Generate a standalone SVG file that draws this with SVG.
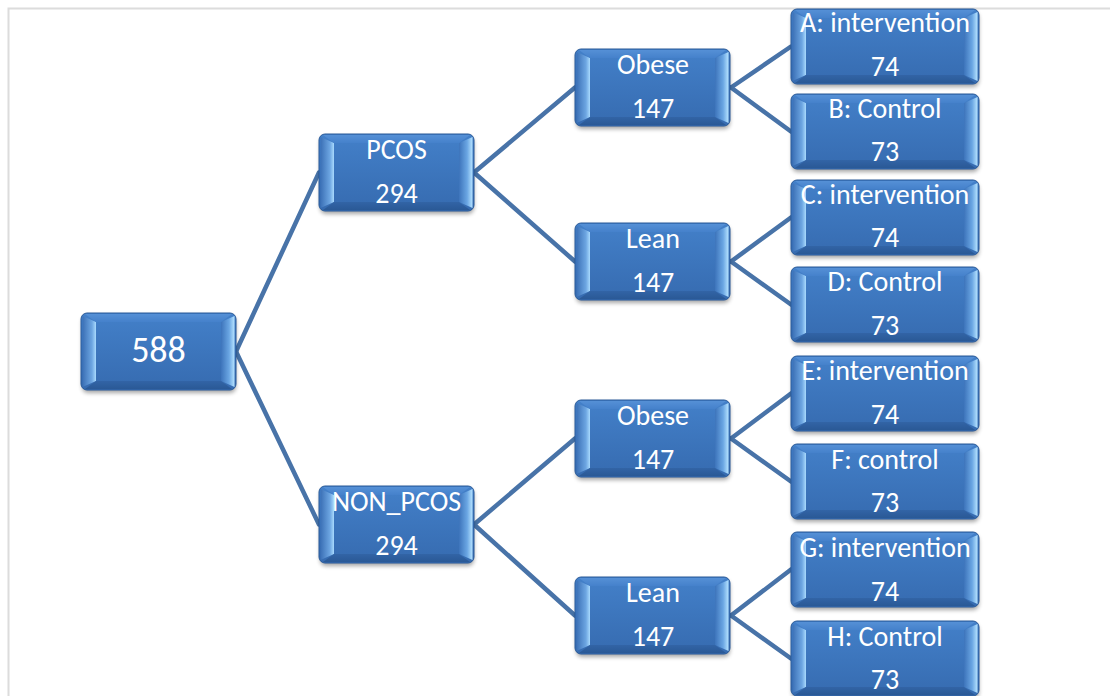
<svg xmlns="http://www.w3.org/2000/svg" xmlns:xlink="http://www.w3.org/1999/xlink" width="1110" height="696" viewBox="0 0 1110 696">
<style>
.t{fill:#ffffff;font-family:Carlito,Lato,"Liberation Sans",sans-serif;font-size:28px;text-anchor:middle}
.big{font-size:36px}
.con{stroke:#4873a8;stroke-width:4.5;fill:none;stroke-linecap:round}
.frame{stroke:#dcdcdc;stroke-width:2;fill:none}
</style>
<defs>
<linearGradient id="face" x1="0" y1="0" x2="0" y2="1"><stop offset="0" stop-color="#4380c9"/><stop offset="1" stop-color="#366bb0"/></linearGradient>
<linearGradient id="bevL" x1="0" y1="0" x2="1" y2="0"><stop offset="0" stop-color="#3b70b6"/><stop offset="0.7" stop-color="#6da6e2"/><stop offset="1" stop-color="#a9dafd"/></linearGradient>
<linearGradient id="bevR" x1="0" y1="0" x2="1" y2="0"><stop offset="0" stop-color="#3d74bb"/><stop offset="0.6" stop-color="#6aa6e3"/><stop offset="1" stop-color="#b6e3ff"/></linearGradient>
<linearGradient id="bevT" x1="0" y1="0" x2="0" y2="1"><stop offset="0" stop-color="#5590d6"/><stop offset="1" stop-color="#4581cb"/></linearGradient>
<linearGradient id="bevB" x1="0" y1="0" x2="0" y2="1"><stop offset="0" stop-color="#3264a6"/><stop offset="1" stop-color="#2a5996"/></linearGradient>
<filter id="sh" x="-10%" y="-10%" width="120%" height="130%"><feGaussianBlur stdDeviation="2"/></filter>
<g id="boxM">
<rect x="1" y="3" width="154" height="77" rx="6" fill="#000" opacity="0.35" filter="url(#sh)"/>
<rect x="0" y="0" width="155" height="77" rx="6" fill="url(#face)" stroke="#2b5b99" stroke-width="1"/>
<polygon points="1.5,3 15,9 15,68 1.5,74" fill="url(#bevL)"/>
<polygon points="140,9 153.5,3 153.5,74 140,68" fill="url(#bevR)"/>
<polygon points="4,1 151,1 140,9 15,9" fill="url(#bevT)"/>
<polygon points="15,68 140,68 151,76 4,76" fill="url(#bevB)"/>
</g>
<g id="boxL">
<rect x="1" y="3" width="187" height="75" rx="6" fill="#000" opacity="0.35" filter="url(#sh)"/>
<rect x="0" y="0" width="188" height="75" rx="6" fill="url(#face)" stroke="#2b5b99" stroke-width="1"/>
<polygon points="1.5,3 15,9 15,66 1.5,72" fill="url(#bevL)"/>
<polygon points="173,9 186.5,3 186.5,72 173,66" fill="url(#bevR)"/>
<polygon points="4,1 184,1 173,9 15,9" fill="url(#bevT)"/>
<polygon points="15,66 173,66 184,74 4,74" fill="url(#bevB)"/>
</g>
</defs>
<rect width="1110" height="696" fill="#ffffff"/>
<path class="frame" d="M8.5,696 V8.5 H1110"/>
<g id="connectors">
<line class="con" x1="236" y1="351.5" x2="319" y2="172.5"/>
<line class="con" x1="236" y1="351.5" x2="319" y2="524.5"/>
<line class="con" x1="474" y1="172.5" x2="575" y2="87.5"/>
<line class="con" x1="474" y1="172.5" x2="575" y2="261.5"/>
<line class="con" x1="474" y1="524.5" x2="575" y2="438.5"/>
<line class="con" x1="474" y1="524.5" x2="575" y2="615.5"/>
<line class="con" x1="731" y1="87.5" x2="791" y2="46.5"/>
<line class="con" x1="731" y1="87.5" x2="791" y2="131.5"/>
<line class="con" x1="731" y1="261.5" x2="791" y2="217.5"/>
<line class="con" x1="731" y1="261.5" x2="791" y2="304.5"/>
<line class="con" x1="731" y1="438.5" x2="791" y2="393.5"/>
<line class="con" x1="731" y1="438.5" x2="791" y2="481.5"/>
<line class="con" x1="731" y1="615.5" x2="791" y2="569.5"/>
<line class="con" x1="731" y1="615.5" x2="791" y2="658.5"/>
</g>
<g id="n-root"><use xlink:href="#boxM" x="81" y="313"/><text class="t big" x="158.5" y="362">588</text></g>
<g id="n-pcos"><use xlink:href="#boxM" x="319" y="134"/><text class="t" x="396.5" y="159">PCOS</text><text class="t" x="396.5" y="203">294</text></g>
<g id="n-nonpcos"><use xlink:href="#boxM" x="319" y="486"/><text class="t" x="396.5" y="511">NON_PCOS</text><text class="t" x="396.5" y="555">294</text></g>
<g id="n-obese1"><use xlink:href="#boxM" x="575" y="49"/><text class="t" x="653" y="74">Obese</text><text class="t" x="653" y="118">147</text></g>
<g id="n-lean1"><use xlink:href="#boxM" x="575" y="223"/><text class="t" x="653" y="248">Lean</text><text class="t" x="653" y="292">147</text></g>
<g id="n-obese2"><use xlink:href="#boxM" x="575" y="400"/><text class="t" x="653" y="425">Obese</text><text class="t" x="653" y="469">147</text></g>
<g id="n-lean2"><use xlink:href="#boxM" x="575" y="577"/><text class="t" x="653" y="602">Lean</text><text class="t" x="653" y="646">147</text></g>
<g id="n-a"><use xlink:href="#boxL" x="791" y="9"/><text class="t" x="885" y="32">A: intervention</text><text class="t" x="885" y="76">74</text></g>
<g id="n-b"><use xlink:href="#boxL" x="791" y="94"/><text class="t" x="885" y="118">B: Control</text><text class="t" x="885" y="161">73</text></g>
<g id="n-c"><use xlink:href="#boxL" x="791" y="180"/><text class="t" x="885" y="204">C: intervention</text><text class="t" x="885" y="247">74</text></g>
<g id="n-d"><use xlink:href="#boxL" x="791" y="267"/><text class="t" x="885" y="291">D: Control</text><text class="t" x="885" y="335">73</text></g>
<g id="n-e"><use xlink:href="#boxL" x="791" y="356"/><text class="t" x="885" y="380">E: intervention</text><text class="t" x="885" y="424">74</text></g>
<g id="n-f"><use xlink:href="#boxL" x="791" y="444"/><text class="t" x="885" y="469">F: control</text><text class="t" x="885" y="512">73</text></g>
<g id="n-g"><use xlink:href="#boxL" x="791" y="532"/><text class="t" x="885" y="557">G: intervention</text><text class="t" x="885" y="601">74</text></g>
<g id="n-h"><use xlink:href="#boxL" x="791" y="621"/><text class="t" x="885" y="646">H: Control</text><text class="t" x="885" y="689">73</text></g>
</svg>
